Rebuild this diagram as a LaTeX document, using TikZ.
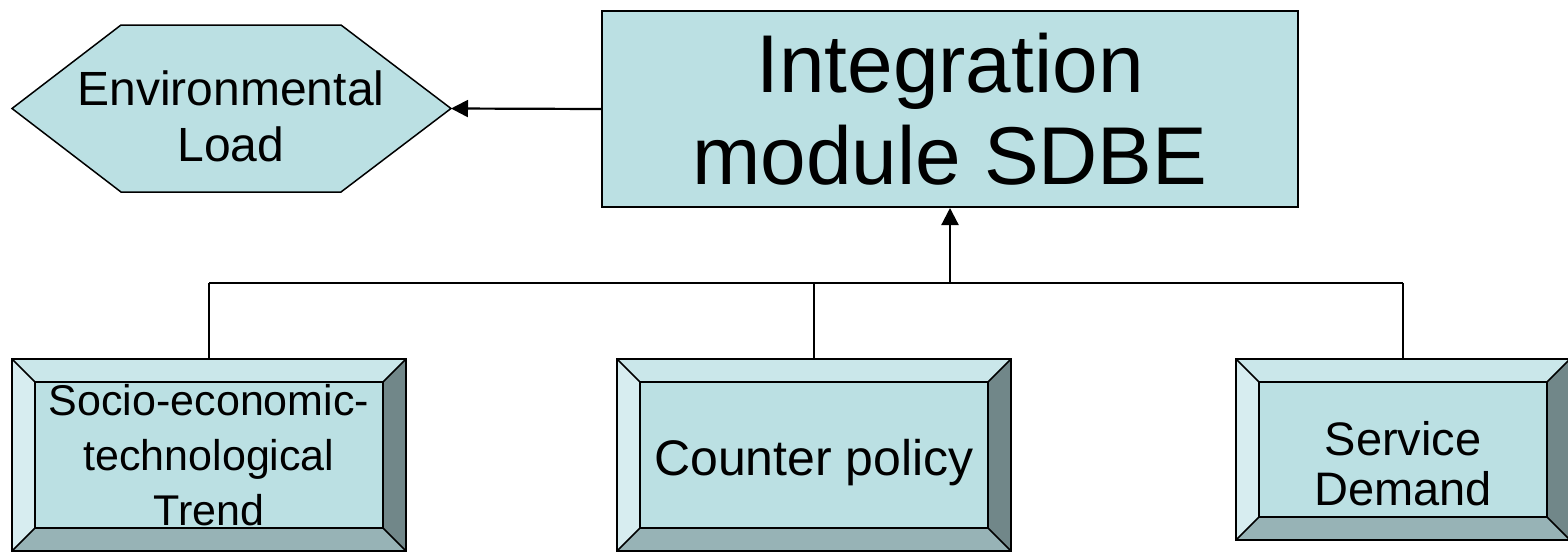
\documentclass[tikz,border=0pt]{standalone}
\usepackage{fontspec}
\setmainfont{Liberation Sans}
\usepackage{tikz}
\usetikzlibrary{arrows.meta,positioning}

\definecolor{bvface}{RGB}{187,224,227}
\definecolor{bvtop}{RGB}{202,231,234}
\definecolor{bvleft}{RGB}{215,237,240}
\definecolor{bvbot}{RGB}{151,179,182}
\definecolor{bvright}{RGB}{113,135,137}

% text block moved down by #1, keeping its size
\newcommand{\lowtext}[2]{\raisebox{-#1}[\height][\depth]{\begin{tabular}{@{}c@{}}#2\end{tabular}}}

\tikzset{
  bevelbox/.style={rectangle, draw, line width=1.8pt, fill=bvface, align=center, inner sep=0pt,
    path picture={
      \path (path picture bounding box.north west) coordinate (pnw)
            (path picture bounding box.north east) coordinate (pne)
            (path picture bounding box.south west) coordinate (psw)
            (path picture bounding box.south east) coordinate (pse);
      \path ([shift={(23pt,-23pt)}]pnw) coordinate (inw)
            ([shift={(-23pt,-23pt)}]pne) coordinate (ine)
            ([shift={(23pt,23pt)}]psw) coordinate (isw)
            ([shift={(-23pt,23pt)}]pse) coordinate (ise);
      \fill[bvtop] (pnw) -- (pne) -- (ine) -- (inw) -- cycle;
      \fill[bvleft] (pnw) -- (inw) -- (isw) -- (psw) -- cycle;
      \fill[bvbot] (psw) -- (isw) -- (ise) -- (pse) -- cycle;
      \fill[bvright] (pne) -- (pse) -- (ise) -- (ine) -- cycle;
      \draw[line width=1.6pt] (inw) rectangle (ise)
            (pnw) -- (inw) (pne) -- (ine) (psw) -- (isw) (pse) -- (ise);
    }},
  wire/.style={line width=2.2pt},
  tip/.style={-{Triangle[length=17pt,width=17pt]}}
}

\begin{document}
\begin{tikzpicture}[x=1pt,y=-1pt]
\useasboundingbox (0,0) rectangle (1568,552);

\node[rectangle, draw, line width=2pt, fill=bvface, align=center,
    minimum width=696pt, minimum height=196pt,
    font=\fontsize{82}{92}\selectfont] (sdbe) at (950,109) {Integration\\module SDBE};

% hexagon
\draw[line width=1.5pt, fill=bvface] (12,108.5) -- (121,25) -- (341,25) -- (451,108.5)
    -- (341,192) -- (121,192) -- cycle;
\coordinate (envtip) at (451,108.5);
\node[align=center, inner sep=0pt, font=\fontsize{48}{56}\selectfont] (env) at (231,108.5)
    {\lowtext{14pt}{Environmental\\Load}};

\node[bevelbox, minimum width=394pt, minimum height=192pt,
    font=\fontsize{43}{55}\selectfont] (soc) at (209,455) {Socio-economic-\\technological\\Trend};

\node[bevelbox, minimum width=394pt, minimum height=192pt,
    font=\fontsize{50}{56}\selectfont] (cnt) at (814,455) {\lowtext{9pt}{Counter policy}};

\node[bevelbox, minimum width=334pt, minimum height=181pt,
    font=\fontsize{47}{50}\selectfont] (dem) at (1403,449.5) {\lowtext{21pt}{Service\\Demand}};

\coordinate (bus) at (950,283);

\draw[wire] (soc.north) -- (soc.north |- bus);
\draw[wire] (cnt.north) -- (cnt.north |- bus);
\draw[wire] (dem.north) -- (dem.north |- bus);
\draw[wire, line width=2.8pt] (soc.north |- bus) -- (dem.north |- bus);
\draw[wire, tip] (bus) -- (sdbe.south);
\draw[wire, tip] (sdbe.west) -- (envtip);

\end{tikzpicture}
\end{document}
